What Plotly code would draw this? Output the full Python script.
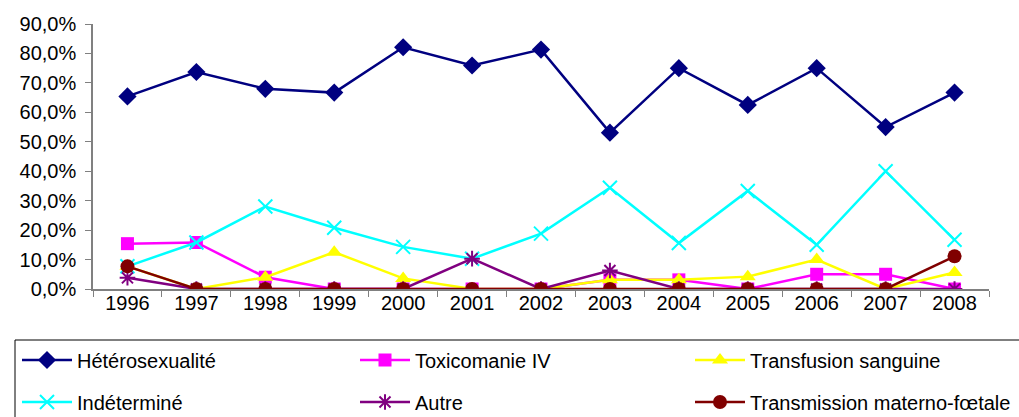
import plotly.graph_objects as go

years = ["1996", "1997", "1998", "1999", "2000", "2001", "2002",
         "2003", "2004", "2005", "2006", "2007", "2008"]

heterosexualite = [65.4, 73.7, 68.0, 66.7, 82.1, 75.9, 81.3, 53.1, 75.0, 62.5, 75.0, 55.0, 66.7]
toxicomanie_iv = [15.4, 15.8, 4.0, 0.0, 0.0, 0.0, 0.0, 3.1, 3.1, 0.0, 5.0, 5.0, 0.0]
transfusion = [7.7, 0.0, 4.0, 12.5, 3.6, 0.0, 0.0, 3.1, 3.1, 4.2, 10.0, 0.0, 5.6]
indetermine = [7.7, 15.8, 28.0, 20.8, 14.3, 10.3, 18.8, 34.4, 15.6, 33.3, 15.0, 40.0, 16.7]
autre = [3.8, 0.0, 0.0, 0.0, 0.0, 10.3, 0.0, 6.3, 0.0, 0.0, 0.0, 0.0, 0.0]
materno_foetale = [7.7, 0.0, 0.0, 0.0, 0.0, 0.0, 0.0, 0.0, 0.0, 0.0, 0.0, 0.0, 11.1]

# name, values, colour, symbol, size, legend id, legend x (px), legend row y (px)
series = [
    ("Hétérosexualité", heterosexualite, "#000080", "diamond", 14, "legend", 17, 360),
    ("Toxicomanie IV", toxicomanie_iv, "#FF00FF", "square", 13, "legend2", 355, 360),
    ("Transfusion sanguine", transfusion, "#FFFF00", "triangle-up", 14, "legend3", 690, 360),
    ("Indéterminé", indetermine, "#00FFFF", "x-thin-open", 14, "legend4", 17, 402),
    ("Autre", autre, "#800080", "asterisk-open", 13, "legend5", 355, 402),
    ("Transmission materno-fœtale", materno_foetale, "#800000", "circle", 14, "legend6", 690, 402),
]

W, H = 1019, 417
L, R, T, B = 93, 30, 24, 128
pw, ph = W - L - R, H - T - B

FONT = "Liberation Sans, Arial, sans-serif"

fig = go.Figure()
legends = {}
for name, vals, color, sym, size, lg, lx, ly in series:
    open_sym = sym.endswith("open")
    fig.add_trace(go.Scatter(
        x=years, y=[v / 100 for v in vals], name=name, mode="lines+markers",
        line=dict(color=color, width=2.5),
        marker=dict(symbol=sym, size=size, color=color,
                    line=dict(color=color, width=2 if open_sym else 0)),
        legend=lg,
    ))
    legends[lg] = dict(
        xref="container", yref="container",
        x=lx / W, y=1 - ly / H, xanchor="left", yanchor="middle",
        orientation="h", itemwidth=50,
        font=dict(family=FONT, size=20, color="black"),
        bgcolor="rgba(0,0,0,0)", borderwidth=0,
    )

fig.update_layout(
    width=W, height=H,
    margin=dict(l=L, r=R, t=T, b=B, autoexpand=False),
    paper_bgcolor="white", plot_bgcolor="white",
    separators=", ",
    font=dict(family=FONT, color="black"),
    showlegend=True,
    shapes=[dict(type="rect", xref="paper", yref="paper",
                 x0=(15 - L) / pw, x1=(1040 - L) / pw,
                 y0=(H - B - 340) / ph, y1=(H - B - 440) / ph,
                 line=dict(color="black", width=1), fillcolor="rgba(0,0,0,0)")],
    **legends,
)

fig.update_xaxes(
    type="category", range=[-0.5, 12.5], showgrid=False,
    showline=True, linecolor="#808080", linewidth=1.5,
    ticks="outside", tickson="boundaries", ticklen=6, tickcolor="#808080",
    ticklabelstandoff=-5,
    tickfont=dict(family=FONT, size=20, color="black"), zeroline=False,
)
fig.update_yaxes(
    range=[0, 0.9], dtick=0.1, tickformat=".1%", showgrid=False,
    showline=True, linecolor="#808080", linewidth=1.5,
    ticks="outside", ticklen=6, tickcolor="#808080",
    ticklabelstandoff=5,
    tickfont=dict(family=FONT, size=20, color="black"), zeroline=False,
)

fig.write_html("out.html", config={"displayModeBar": False},
               post_script="document.body.style.margin='0';document.body.style.overflow='hidden';")
